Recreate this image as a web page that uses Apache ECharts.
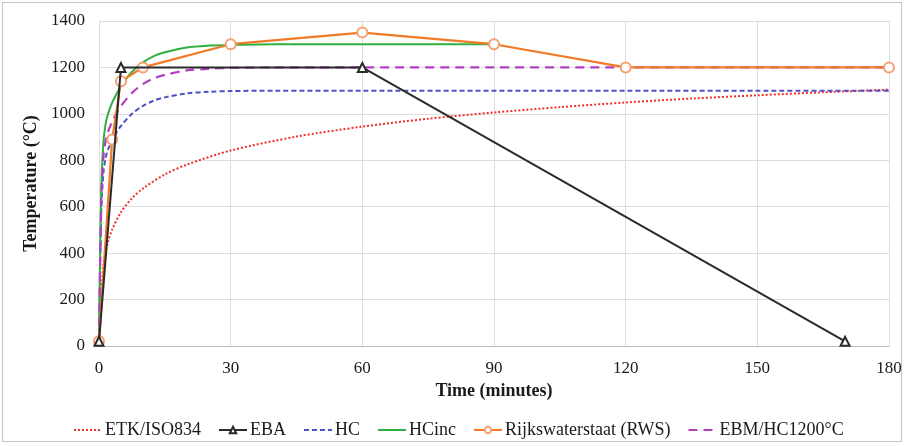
<!DOCTYPE html>
<html><head><meta charset="utf-8">
<script src="https://cdn.jsdelivr.net/npm/echarts@6/dist/echarts.min.js"></script>
<style>
html,body{margin:0;padding:0;background:#fff;}
#frame{position:absolute;left:2px;top:2px;width:900px;height:440px;border:1.5px solid #c4c4c4;box-sizing:border-box;}
#chart{position:absolute;left:0;top:0;width:906px;height:446px;}
</style></head>
<body>
<div id="frame"></div>
<div id="chart"></div>
<script>
// Tick labels
const xTicks = [0, 30, 60, 90, 120, 150, 180];
const yTicks = [0, 200, 400, 600, 800, 1000, 1200, 1400];

// ETK/ISO834
const etkTime = [0, 1, 2, 3, 5, 7.5, 10, 15, 20, 30, 45, 60, 75, 90, 105, 120, 135, 150, 165, 180];
const etkTemp = [20, 349, 445, 502, 576, 636, 678, 739, 781, 842, 902, 945, 979, 1006, 1029, 1049, 1066, 1080, 1093, 1104];

// EBA
const ebaTime = [0, 5, 60, 170];
const ebaTemp = [20, 1200, 1200, 20];

// HC, HCinc, EBM/HC1200°C
const hcTime = [0, 0.5, 1, 1.5, 2, 3, 4, 5, 7.5, 10, 12.5, 15, 20, 25, 30, 40, 60, 90, 120, 150, 180];
const hcTemp = [20, 569, 744, 809, 844, 887, 920, 948, 1000, 1034, 1057, 1071, 1088, 1095, 1098, 1100, 1100, 1100, 1100, 1100, 1100];
const hcincTime = [0, 0.5, 1, 1.5, 2, 3, 4, 5, 7.5, 10, 12.5, 15, 20, 25, 30, 40, 60, 90];
const hcincTemp = [20, 670, 878, 956, 996, 1048, 1086, 1120, 1181, 1222, 1249, 1265, 1286, 1294, 1297, 1300, 1300, 1300];
const ebmTemp = [20, 619, 811, 883, 920, 967, 1003, 1034, 1090, 1128, 1153, 1168, 1187, 1194, 1198, 1200, 1200, 1200, 1200, 1200, 1200];

// Rijkswaterstaat (RWS)
const rwsTime = [0, 3, 5, 10, 30, 60, 90, 120, 180];
const rwsTemp = [20, 890, 1140, 1200, 1300, 1350, 1300, 1200, 1200];

const seriesNames = ['ETK/ISO834', 'EBA', 'HC', 'HCinc', 'Rijkswaterstaat (RWS)', 'EBM/HC1200°C'];

function pairs(t, v) { return t.map((x, i) => [x, v[i]]); }

const font = '"Liberation Serif", "Times New Roman", serif';
const hide = {opacity: 0};
const chart = echarts.init(document.getElementById('chart'), null, {renderer: 'canvas'});
chart.setOption({
  animation: false,
  backgroundColor: 'transparent',
  grid: {left: 99, right: 17, top: 21, bottom: 100, containLabel: false},
  xAxis: {
    type: 'value', min: xTicks[0], max: xTicks[xTicks.length - 1], interval: 30,
    name: 'Time (minutes)', nameLocation: 'middle', nameGap: 34,
    nameTextStyle: {fontFamily: font, fontSize: 18, fontWeight: 'bold', color: '#1a1a1a'},
    axisLine: {show: true, lineStyle: {color: '#bdbdbd', width: 1}},
    axisTick: {show: false},
    axisLabel: {fontFamily: font, fontSize: 17, color: '#1a1a1a', margin: 14},
    splitLine: {show: true, lineStyle: {color: '#dedede', width: 1}}
  },
  yAxis: {
    type: 'value', min: yTicks[0], max: yTicks[yTicks.length - 1], interval: 200,
    name: 'Temperature (°C)', nameLocation: 'middle', nameGap: 50,
    nameTextStyle: {fontFamily: font, fontSize: 18, fontWeight: 'bold', color: '#1a1a1a'},
    axisLine: {show: true, lineStyle: {color: '#dedede', width: 1}},
    axisTick: {show: false},
    axisLabel: {fontFamily: font, fontSize: 17, color: '#1a1a1a', margin: 14, formatter: v => String(v)},
    splitLine: {show: true, lineStyle: {color: '#dedede', width: 1}}
  },
  legend: {
    bottom: 2, left: 68,
    itemWidth: 28, itemHeight: 8, itemGap: 17,
    textStyle: {fontFamily: font, fontSize: 18, color: '#1a1a1a', padding: [0, 0, 0, -2]},
    data: [
      {name: seriesNames[0], itemStyle: hide},
      {name: seriesNames[1]},
      {name: seriesNames[2], itemStyle: hide},
      {name: seriesNames[3], itemStyle: hide},
      {name: seriesNames[4]},
      {name: seriesNames[5], itemStyle: hide}
    ]
  },
  series: [
    {name: seriesNames[0], type: 'line', data: pairs(etkTime, etkTemp), smooth: 0.3,
     symbol: 'none', lineStyle: {color: '#f0302a', width: 2, type: [2, 2]}, itemStyle: {color: '#f0302a'}, z: 2},
    {name: seriesNames[2], type: 'line', data: pairs(hcTime, hcTemp), smooth: 0.3,
     symbol: 'none', lineStyle: {color: '#5050c8', width: 2, type: [5, 3]}, itemStyle: {color: '#5050c8'}, z: 3},
    {name: seriesNames[3], type: 'line', data: pairs(hcincTime, hcincTemp), smooth: 0.3,
     symbol: 'none', lineStyle: {color: '#2fb040', width: 2}, itemStyle: {color: '#2fb040'}, z: 4},
    {name: seriesNames[5], type: 'line', data: pairs(hcTime, ebmTemp), smooth: 0.3,
     symbol: 'none', lineStyle: {color: '#b040c0', width: 2.2, type: [9, 6]}, itemStyle: {color: '#b040c0'}, z: 5},
    {name: seriesNames[4], type: 'line', data: pairs(rwsTime, rwsTemp),
     symbol: 'emptyCircle', symbolSize: 10, showAllSymbol: true,
     lineStyle: {color: '#f07a28', width: 2.2}, itemStyle: {color: '#f5a070', borderColor: '#f5a070', borderWidth: 1.2}, z: 6},
    {name: seriesNames[1], type: 'line', data: pairs(ebaTime, ebaTemp),
     symbol: 'emptyTriangle', symbolSize: 9, showAllSymbol: true,
     lineStyle: {color: '#2a2a2a', width: 2}, itemStyle: {color: '#2a2a2a', borderColor: '#555', borderWidth: 1.2}, z: 7}
  ]
});
</script>
</body></html>
